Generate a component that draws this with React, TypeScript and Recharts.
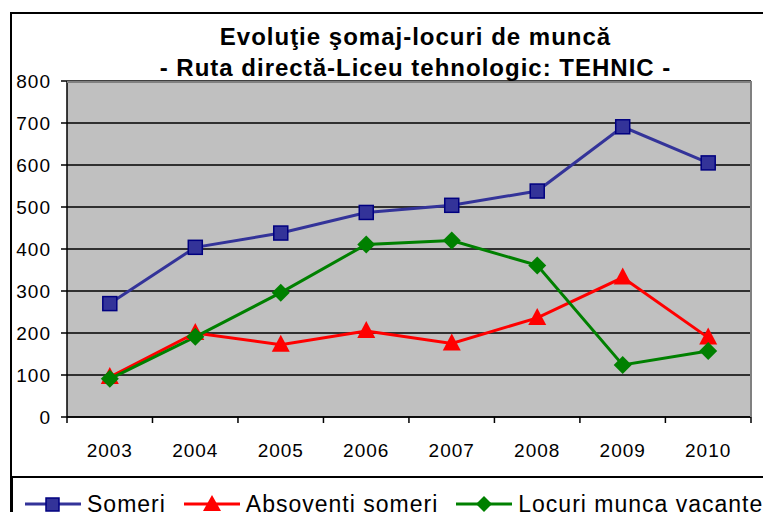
import { CartesianGrid, Line, LineChart, XAxis, YAxis } from 'recharts'

const years = ['2003', '2004', '2005', '2006', '2007', '2008', '2009', '2010']
const someri = [270, 404, 438, 487, 504, 538, 691, 605]
const absolventi = [95, 200, 172, 205, 175, 236, 332, 189]
const locuri = [91, 191, 296, 411, 420, 361, 124, 157]
const yTicks = [0, 100, 200, 300, 400, 500, 600, 700, 800]

const data = years.map((year, i) => ({
  year,
  someri: someri[i],
  absolventi: absolventi[i],
  locuri: locuri[i],
}))

const font = 'Arial, "Liberation Sans", sans-serif'
const HALF = 42.8

const Square = ({ cx, cy, index }: any) => (
  <rect key={`s${index}`} x={cx - 7} y={cy - 7} width={14} height={14} fill="#333399" stroke="#000080" strokeWidth={1.5} />
)

const Triangle = ({ cx, cy, index }: any) => (
  <polygon key={`t${index}`} points={`${cx},${cy - 10} ${cx + 9},${cy + 7} ${cx - 9},${cy + 7}`} fill="#ff0000" />
)

const Diamond = ({ cx, cy, index }: any) => (
  <polygon key={`d${index}`} points={`${cx},${cy - 9} ${cx + 9},${cy} ${cx},${cy + 9} ${cx - 9},${cy}`} fill="#008000" />
)

const YearTick = ({ x, payload, index }: any) => (
  <g>
    <line x1={x - HALF} y1={417} x2={x - HALF} y2={423} stroke="#000" strokeWidth={1.5} />
    {index === years.length - 1 && (
      <line x1={x + HALF} y1={417} x2={x + HALF} y2={423} stroke="#000" strokeWidth={1.5} />
    )}
    <text
      x={x}
      y={450}
      textAnchor="middle"
      dominantBaseline="central"
      fontSize={19}
      letterSpacing={1}
      fontFamily={font}
      fill="#000"
    >
      {payload.value}
    </text>
  </g>
)

const LegendItem = ({ color, label, marker, gap }: { color: string; label: string; marker: string; gap: number }) => (
  <div style={{ display: 'flex', alignItems: 'center', marginRight: gap }}>
    <svg width={56} height={22}>
      <line x1={0} y1={11} x2={56} y2={11} stroke={color} strokeWidth={3} />
      {marker === 'square' && <rect x={21} y={5} width={13} height={13} fill="#333399" stroke="#000080" strokeWidth={1.5} />}
      {marker === 'triangle' && <polygon points="28,2 37,18 19,18" fill="#ff0000" />}
      {marker === 'diamond' && <polygon points="28,3 36,11 28,19 20,11" fill="#008000" />}
    </svg>
    <span style={{ marginLeft: 6 }}>{label}</span>
  </div>
)

export default function App() {
  return (
    <div style={{ position: 'relative', width: 771, height: 520, margin: -8, overflow: 'hidden', background: '#fff' }}>
      <div
        style={{
          position: 'absolute',
          left: 10,
          top: 12,
          width: 900,
          height: 600,
          border: '2px solid #000',
          boxSizing: 'border-box',
        }}
      />
      <div
        style={{
          position: 'absolute',
          left: 0,
          top: 21,
          width: 831,
          textAlign: 'center',
          fontFamily: font,
          fontWeight: 'bold',
          fontSize: 24,
          letterSpacing: 1,
          lineHeight: '31px',
        }}
      >
        <div>Evoluţie şomaj-locuri de muncă</div>
        <div>- Ruta directă-Liceu tehnologic: TEHNIC -</div>
      </div>
      <div style={{ position: 'absolute', left: 0, top: 0 }}>
        <LineChart width={771} height={520} data={data} margin={{ top: 81, right: 20, bottom: 53, left: 7 }}>
          <CartesianGrid vertical={false} stroke="#000" strokeWidth={1.5} fill="#c0c0c0" strokeOpacity={1} />
          <XAxis
            dataKey="year"
            padding={{ left: HALF, right: HALF }}
            axisLine={{ stroke: '#000', strokeWidth: 1.5 }}
            tickLine={false}
            tick={<YearTick />}
            height={50}
            interval={0}
          />
          <YAxis
            domain={[0, 800]}
            ticks={yTicks}
            width={60}
            axisLine={{ stroke: '#000', strokeWidth: 1.5 }}
            tickLine={{ stroke: '#000', strokeWidth: 1.5 }}
            tickSize={6}
            tickMargin={10}
            tick={{ fontSize: 19, fontFamily: font, fill: '#000', letterSpacing: 1 }}
          />
          <Line dataKey="someri" stroke="#333399" strokeWidth={3} dot={Square} isAnimationActive={false} />
          <Line dataKey="absolventi" stroke="#ff0000" strokeWidth={3} dot={Triangle} isAnimationActive={false} />
          <Line dataKey="locuri" stroke="#008000" strokeWidth={3} dot={Diamond} isAnimationActive={false} />
        </LineChart>
      </div>
      <div
        style={{
          position: 'absolute',
          left: 67,
          top: 81,
          width: 685,
          height: 336,
          borderTop: '2px solid #808080',
          borderRight: '2px solid #808080',
          boxSizing: 'border-box',
          pointerEvents: 'none',
        }}
      />
      <div
        style={{
          position: 'absolute',
          left: 11,
          top: 476,
          width: 900,
          height: 100,
          borderTop: '2px solid #000',
          borderLeft: '2px solid #000',
          boxSizing: 'border-box',
          display: 'flex',
          alignItems: 'flex-start',
          paddingTop: 15,
          paddingLeft: 12,
          fontFamily: font,
          fontSize: 23,
          letterSpacing: 1,
          whiteSpace: 'nowrap',
          lineHeight: '22px',
        }}
      >
        <LegendItem color="#333399" label="Şomeri" marker="square" gap={18} />
        <LegendItem color="#ff0000" label="Absovenţi şomeri" marker="triangle" gap={18} />
        <LegendItem color="#008000" label="Locuri munca vacante" marker="diamond" gap={0} />
      </div>
    </div>
  )
}
